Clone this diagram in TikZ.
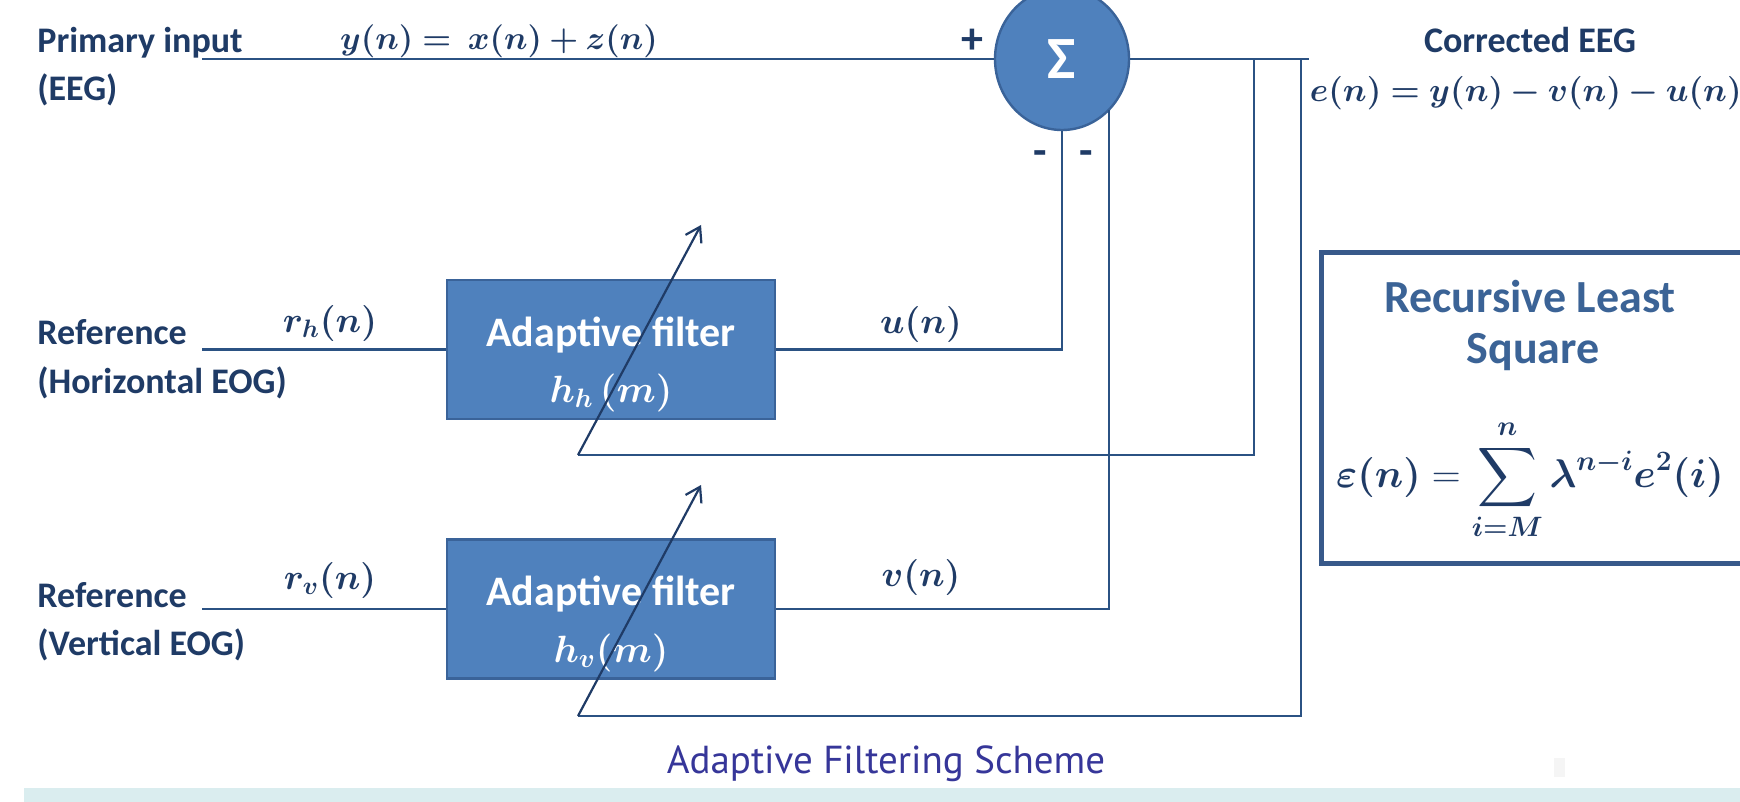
\RequirePackage{fix-cm}
\documentclass[tikz,border=0pt]{standalone}
\usepackage{exscale}
\usepackage{amsmath}
\usepackage{fontspec}
\setmainfont{Carlito}
\newfontfamily\capfont{PT Sans}
\usepackage{bm}
\usetikzlibrary{shapes.geometric,arrows.meta}
\definecolor{wire}{HTML}{2B5283}
\definecolor{ink}{HTML}{1F3B66}
\definecolor{boxfill}{HTML}{4F81BD}
\definecolor{boxedge}{HTML}{3A6399}
\definecolor{rlsink}{HTML}{3B6396}
\definecolor{rlsedge}{HTML}{38598A}
\definecolor{capink}{HTML}{363699}
\definecolor{band}{HTML}{DAEDEF}
\begin{document}
\begin{tikzpicture}[x=0.5pt,y=-0.5pt,
  wireline/.style={draw=wire,line width=1.4pt},
  lbl/.style={text=ink,font=\bfseries\fontsize{18}{21}\selectfont,inner sep=0pt,anchor=base west},
  mathlbl/.style={text=ink,font=\fontsize{18}{22}\selectfont,inner sep=0pt,anchor=base},
  filt/.style={draw=boxedge,line width=1.2pt,fill=boxfill,minimum width=164pt,minimum height=69.5pt,inner sep=0pt},
  filttext/.style={text=white,font=\bfseries\fontsize{21}{24}\selectfont,inner sep=0pt,anchor=base},
  filtmath/.style={text=white,font=\fontsize{19}{22}\selectfont,inner sep=0pt,anchor=base},
  sumnode/.style={ellipse,draw=boxedge,line width=1.2pt,fill=boxfill,minimum width=67pt,minimum height=71pt,inner sep=0pt,text=white,font=\bfseries\fontsize{30}{34}\selectfont},
  tune/.style={draw=ink,line width=1.1pt,-{Straight Barb[length=7pt,width=9pt]}},
  sign/.style={text=ink,font=\bfseries\fontsize{22}{24}\selectfont,inner sep=0pt},
  rlstext/.style={text=rlsink,font=\bfseries\fontsize{23}{26}\selectfont,inner sep=0pt,anchor=base}
]
\clip (0,0) rectangle (1740,802);
\fill[white] (0,0) rectangle (1740,802);

% bottom band and small mark
\fill[band] (24,788) rectangle (1740,802);
\fill[gray!8] (1554,758) rectangle (1565,777);

% summing junction and adaptive filters
\node[sumnode] (sum) at (1062,59) {Σ};
\node[filt] (f1) at (611,349.5) {};
\node[filt] (f2) at (611,609) {};
\node[filttext] (f1a) at (611,346) {Adaptive filter};
\node[filtmath] (f1b) at (611,402) {$\bm{h_h\,(m)}$};
\node[filttext] (f2a) at (611,605) {Adaptive filter};
\node[filtmath] (f2b) at (611,662) {$\bm{h_v(m)}$};

% RLS box
\node[draw=rlsedge,line width=2.5pt,minimum width=220pt,minimum height=155pt,inner sep=0pt] (rls) at (1541,408) {};
\node[rlstext] (rls1) at (1530,313) {Recursive Least};
\node[rlstext] (rls2) at (1533,363) {Square};
\node[text=ink,font=\fontsize{20}{23}\selectfont,inner sep=0pt] (rlsf) at (1530,480)
  {$\displaystyle \bm{\varepsilon(n)} = \sum\limits_{\bm{i=M}}^{\bm{n}} \bm{\lambda^{n-i}e^{2}(i)}$};

% signal coordinates
\coordinate (pin) at (202,59);
\coordinate (out) at (1309,59);
\coordinate (t1) at (1254,59);
\coordinate (c1) at (1254,455);
\coordinate (t2) at (1301,59);
\coordinate (c2) at (1301,716);
\coordinate (a1s) at (578,455);
\coordinate (a1e) at (701,225);
\coordinate (a2s) at (578,716);
\coordinate (a2e) at (701,485);
\coordinate (rin1) at (202,349.5);
\coordinate (rin2) at (202,609);
\coordinate (vc) at (1109,609);

% wires
\draw[wireline] (pin) -- (sum.west);
\draw[wireline] (sum.east) -- (out);
\draw[wireline] (rin1) -- (f1.west);
\draw[wireline] (rin2) -- (f2.west);
\draw[wireline] (f1.east) -- (f1.east -| sum.south) -- (sum.south);
\draw[wireline] (f2.east) -- (vc) -- (vc |- sum.-47);
\draw[wireline] (t1) -- (c1) -- (a1s);
\draw[wireline] (t2) -- (c2) -- (a2s);

% adjustment arrows across the filters
\draw[tune] (a1s) -- (a1e);
\draw[tune] (a2s) -- (a2e);

% labels
\node[lbl] (pri1) at (37,53) {Primary input};
\node[lbl] (pri2) at (37,101) {(EEG)};
\node[lbl] (refh1) at (37,344) {Reference};
\node[lbl] (refh2) at (37,393) {(Horizontal EOG)};
\node[lbl] (refv1) at (37,607) {Reference};
\node[lbl] (refv2) at (37,655) {(Vertical EOG)};
\node[lbl,anchor=base] (cor) at (1530,53) {Corrected EEG};

\node[mathlbl,font=\fontsize{16.5}{20}\selectfont] (yeq) at (499,50) {$\bm{y(n) =\ x(n) + z(n)}$};
\node[mathlbl] (rh) at (330,332) {$\bm{r_h(n)}$};
\node[mathlbl] (rv) at (330,589) {$\bm{r_v(n)}$};
\node[mathlbl] (un) at (921,334) {$\bm{u(n)}$};
\node[mathlbl] (vn) at (921,586) {$\bm{v(n)}$};
\node[mathlbl,anchor=base east,font=\fontsize{16.7}{20}\selectfont] (eeq) at (1742,102) {$\bm{e(n) = y(n) - v(n) - u(n)}$};

\node[sign] (plus) at (972,41) {+};
\node[sign] (m1) at (1040,158) {-};
\node[sign] (m2) at (1086,158) {-};

% caption
\node[text=capink,font=\capfont\fontsize{19.5}{22}\selectfont,inner sep=0pt,anchor=base] (cap) at (886,773) {Adaptive Filtering Scheme};
\end{tikzpicture}
\end{document}
